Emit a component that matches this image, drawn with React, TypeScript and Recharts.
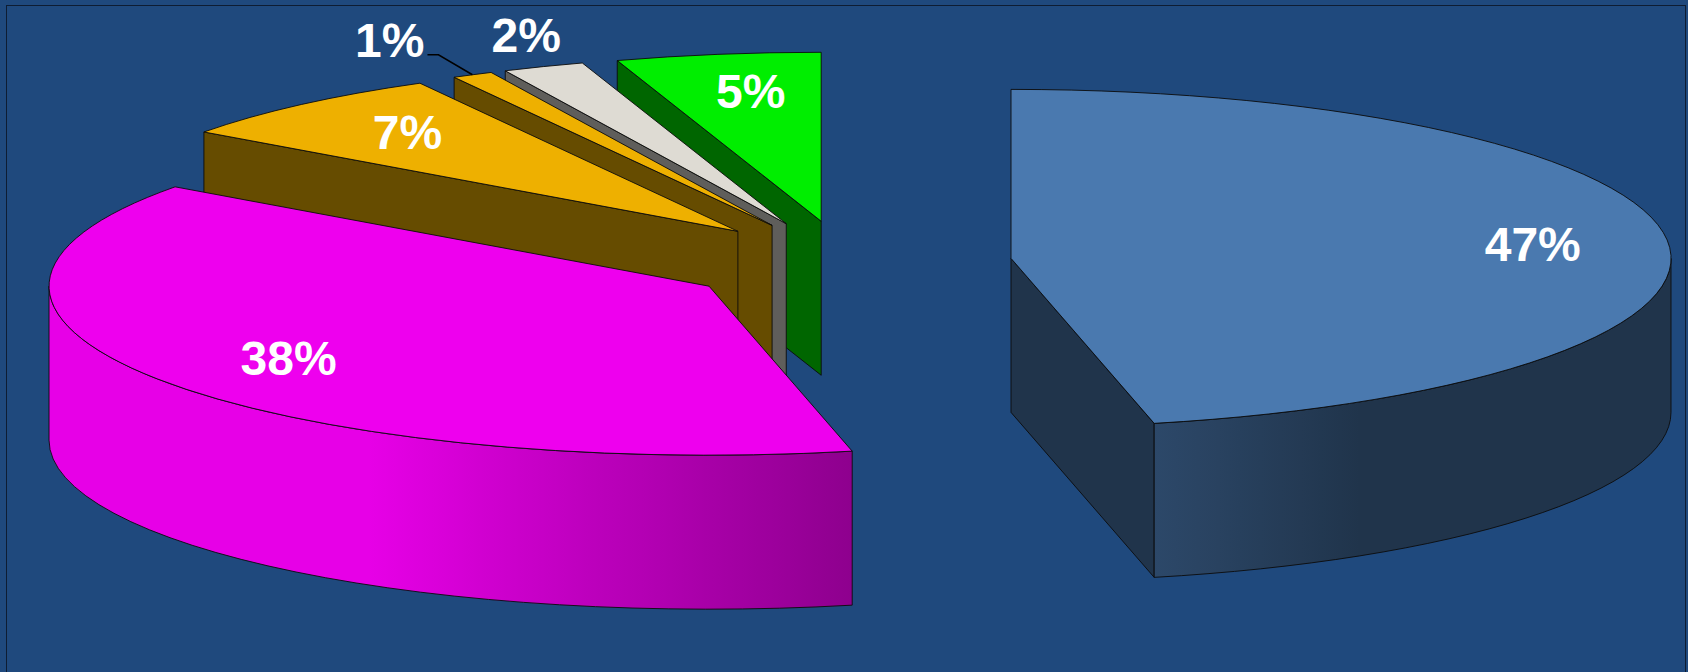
import { PieChart, Pie } from 'recharts';

// slices listed counter-clockwise from 12 o'clock so that back slices are painted first
const categories = ['Green', 'Grey', 'Gold small', 'Gold', 'Magenta', 'Blue'];
const values = [5, 2, 1, 7, 38.48, 46.52];
const topColors = ['#00EE00', '#DEDBD3', '#EEB000', '#EEB000', '#EE00EE', '#4A79AF'];

const data = categories.map((name, i) => ({ name, value: values[i], color: topColors[i] }));

const W = 1688;
const H = 672;
const CX = 847;
const CY = 263;
const R = 660;
const TILT = 169 / 660; // vertical squash of the ellipse
const DEPTH = 154;
const EXPLODE = 0.25;
const RAD = Math.PI / 180;

const shade = (hex: string, f: number) => {
  const n = parseInt(hex.slice(1), 16);
  const r = Math.min(255, Math.round(((n >> 16) & 255) * f));
  const g = Math.min(255, Math.round(((n >> 8) & 255) * f));
  const b = Math.min(255, Math.round((n & 255) * f));
  return `rgb(${r},${g},${b})`;
};

// brightness of the outer wall, light coming from the front-left
const wallLight = (a: number) => {
  let t = a % 360;
  if (t < 0) t += 360;
  const theta = 450 - t; // clockwise from 12 o'clock
  return Math.min(0.97, Math.max(0.43, 0.43 + (theta - 148) * 0.0086));
};

const renderSlice = (props: any) => {
  const { cx, cy, outerRadius, startAngle, endAngle, percent, index, payload } = props;
  const base: string = payload?.color ?? topColors[index];
  const a1 = Math.min(startAngle, endAngle);
  const a2 = Math.max(startAngle, endAngle);
  const mid = (a1 + a2) / 2;
  const rx = outerRadius;
  const ry = outerRadius * TILT;
  const ax = cx + EXPLODE * rx * Math.cos(mid * RAD);
  const ay = cy - EXPLODE * ry * Math.sin(mid * RAD);
  const pt = (deg: number, dy = 0) => [ax + rx * Math.cos(deg * RAD), ay - ry * Math.sin(deg * RAD) + dy];
  const f = (p: number[]) => `${p[0].toFixed(2)},${p[1].toFixed(2)}`;
  const stroke = '#0b0b0b';
  const sw = 0.9;

  const faces: any[] = [];

  // radial faces
  const radial = (deg: number, key: string) => {
    const p = pt(deg);
    const pb = pt(deg, DEPTH);
    faces.push(
      <path
        key={key}
        d={`M${ax},${ay} L${f(p)} L${f(pb)} L${ax},${ay + DEPTH} Z`}
        fill={shade(base, 0.43)}
        stroke={stroke}
        strokeWidth={sw}
        strokeLinejoin="round"
      />
    );
  };
  if (Math.cos(a1 * RAD) > 0.01) radial(a1, 'r1');
  if (Math.cos(a2 * RAD) < -0.01) radial(a2, 'r2');

  // front outer wall
  const defs: any[] = [];
  for (let j = -1; j <= 1; j++) {
    const s = Math.max(a1, 180 + 360 * j);
    const e = Math.min(a2, 360 + 360 * j);
    if (e - s < 0.2) continue;
    const ps = pt(s);
    const pe = pt(e);
    const id = `wall-${index}-${j + 1}`;
    const stops = [];
    const n = 40;
    for (let k = 0; k <= n; k++) {
      const t = s + ((e - s) * k) / n;
      const x = pt(t)[0];
      const off = Math.abs(pe[0] - ps[0]) < 1 ? k / n : (x - ps[0]) / (pe[0] - ps[0]);
      stops.push(<stop key={k} offset={Math.min(1, Math.max(0, off))} stopColor={shade(base, wallLight(t))} />);
    }
    defs.push(
      <linearGradient key={id} id={id} gradientUnits="userSpaceOnUse" x1={ps[0]} y1={0} x2={pe[0]} y2={0}>
        {stops}
      </linearGradient>
    );
    faces.push(
      <path
        key={id}
        d={`M${f(ps)} A${rx},${ry} 0 0 0 ${f(pe)} L${f(pt(e, DEPTH))} A${rx},${ry} 0 0 1 ${f(pt(s, DEPTH))} Z`}
        fill={`url(#${id})`}
        stroke={stroke}
        strokeWidth={sw}
        strokeLinejoin="round"
      />
    );
  }

  // top face
  const p1 = pt(a1);
  const p2 = pt(a2);
  const large = a2 - a1 > 180 ? 1 : 0;
  const top = (
    <path
      d={`M${ax},${ay} L${f(p1)} A${rx},${ry} 0 ${large} 0 ${f(p2)} Z`}
      fill={base}
      stroke={stroke}
      strokeWidth={sw}
      strokeLinejoin="round"
    />
  );

  // percentage label
  const text = `${Math.round(percent * 100)}%`;
  const font = { fontFamily: '"Liberation Sans", Arial, sans-serif', fontWeight: 700, fontSize: 48 };
  let label: any;
  if (percent >= 0.03) {
    const lx = ax + 0.78 * rx * Math.cos(mid * RAD) + 10;
    const ly = ay - 0.78 * ry * Math.sin(mid * RAD);
    label = (
      <text x={lx} y={ly} textAnchor="middle" dominantBaseline="central" fill="#ffffff" {...font}>
        {text}
      </text>
    );
  } else {
    const om = pt(mid);
    if (percent < 0.015) {
      const ex = om[0] - 34;
      const ey = om[1] - 20;
      label = (
        <g>
          <path d={`M${f(om)} L${ex},${ey} L${ex - 11},${ey}`} fill="none" stroke="#000" strokeWidth={1.5} />
          <text x={ex - 14} y={ey - 14} textAnchor="end" dominantBaseline="central" fill="#ffffff" {...font}>
            {text}
          </text>
        </g>
      );
    } else {
      label = (
        <text x={om[0] - 17} y={om[1] - 31} textAnchor="middle" dominantBaseline="central" fill="#ffffff" {...font}>
          {text}
        </text>
      );
    }
  }

  return (
    <g key={`slice-${index}`}>
      <defs>{defs}</defs>
      {faces}
      {top}
      {label}
    </g>
  );
};

export default function App() {
  return (
    <div
      style={{
        position: 'absolute',
        left: 0,
        top: 0,
        width: W,
        height: H,
        background: '#1F497D',
        overflow: 'hidden',
      }}
    >
      <div
        style={{
          position: 'absolute',
          left: 6,
          top: 5,
          width: 1678,
          height: 700,
          borderTop: '1.5px solid #0E1D33',
          borderLeft: '1.5px solid #0E1D33',
          borderRight: '1.5px solid #0E1D33',
        }}
      />
      <div style={{ position: 'absolute', left: 0, top: 0 }}>
        <PieChart width={W} height={H} margin={{ top: 0, right: 0, bottom: 0, left: 0 }}>
          <Pie
            data={data}
            dataKey="value"
            nameKey="name"
            cx={CX}
            cy={CY}
            outerRadius={R}
            startAngle={90}
            endAngle={450}
            fill="none"
            stroke="none"
            label={renderSlice}
            labelLine={false}
            legendType="none"
            isAnimationActive={false}
          />
        </PieChart>
      </div>
    </div>
  );
}
